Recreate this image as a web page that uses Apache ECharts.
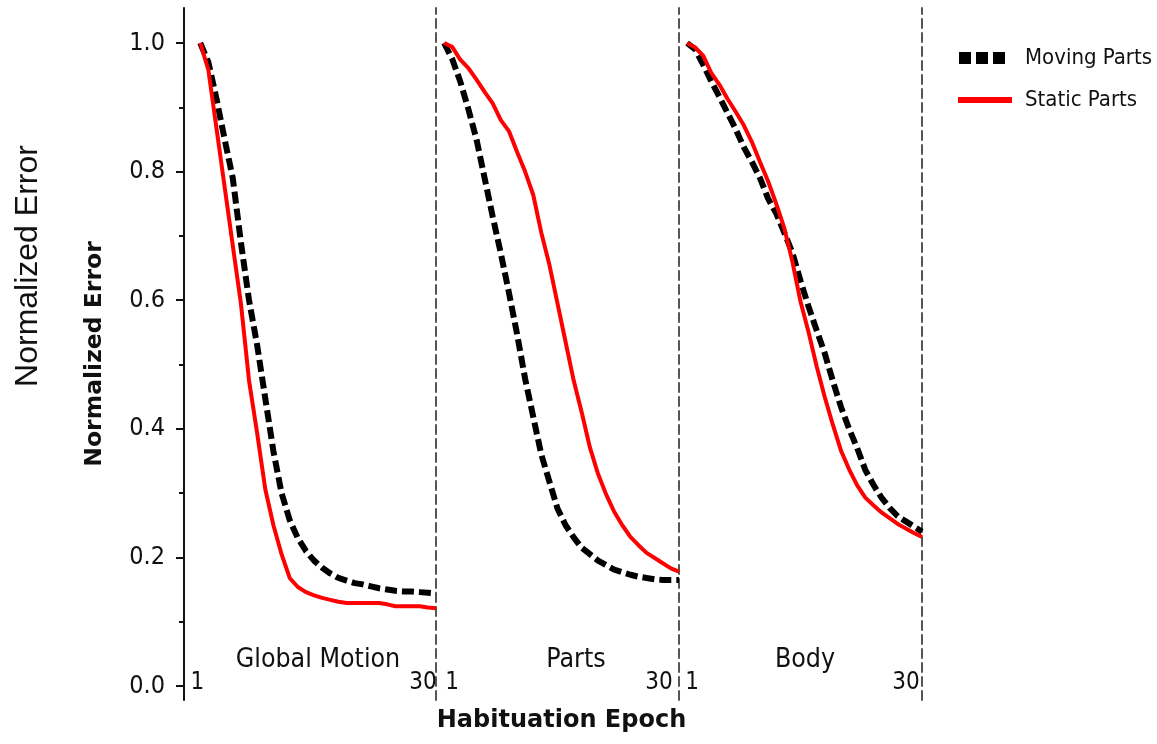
<!DOCTYPE html>
<html><head><meta charset="utf-8">
<script src="https://cdn.jsdelivr.net/npm/echarts@6/dist/echarts.min.js"></script>
<style>html,body{margin:0;padding:0;background:#fff}#c{width:1157px;height:744px}</style>
</head><body><div id="c"></div><script>
const epochs = [1,2,3,4,5,6,7,8,9,10,11,12,13,14,15,16,17,18,19,20,21,22,23,24,25,26,27,28,29,30];
const panelNames = ['Global Motion','Parts','Body'];
const seriesNames = ['Moving Parts','Static Parts'];
const movingGlobal = [1.0,0.97,0.913,0.85,0.79,0.69,0.60,0.53,0.447,0.365,0.30,0.258,0.23,0.21,0.195,0.184,0.175,0.168,0.164,0.16,0.158,0.155,0.152,0.15,0.148,0.147,0.147,0.146,0.145,0.144];
const staticGlobal = [1.0,0.958,0.867,0.776,0.685,0.595,0.475,0.393,0.306,0.25,0.205,0.168,0.154,0.146,0.141,0.137,0.134,0.131,0.129,0.129,0.129,0.129,0.129,0.127,0.124,0.124,0.124,0.124,0.122,0.121];
const movingParts = [1.0,0.975,0.94,0.897,0.85,0.79,0.73,0.673,0.612,0.548,0.478,0.419,0.36,0.318,0.276,0.25,0.231,0.215,0.205,0.195,0.188,0.181,0.177,0.173,0.17,0.168,0.166,0.165,0.165,0.165];
const staticParts = [1.0,0.994,0.974,0.961,0.943,0.924,0.906,0.88,0.863,0.831,0.80,0.764,0.705,0.655,0.595,0.535,0.475,0.425,0.371,0.33,0.298,0.271,0.25,0.232,0.219,0.207,0.199,0.191,0.183,0.178];
const movingBody = [1.0,0.99,0.966,0.94,0.916,0.891,0.866,0.838,0.815,0.79,0.758,0.735,0.705,0.674,0.63,0.59,0.553,0.517,0.474,0.434,0.40,0.37,0.336,0.313,0.293,0.277,0.264,0.256,0.248,0.24];
const staticBody = [1.0,0.993,0.98,0.953,0.935,0.913,0.893,0.872,0.846,0.815,0.785,0.75,0.712,0.66,0.598,0.55,0.497,0.449,0.406,0.366,0.337,0.312,0.293,0.281,0.27,0.261,0.252,0.245,0.238,0.232];
const yTicks = [0,0.2,0.4,0.6,0.8,1.0];
const yMinorTicks = [0.1,0.3,0.5,0.7,0.9];
const xTickLabels = [1,30];

const F = "'DejaVu Sans Condensed','DejaVu Sans',sans-serif";
const FB = "'DejaVu Sans',sans-serif";
const movingData = [movingGlobal, movingParts, movingBody];
const staticData = [staticGlobal, staticParts, staticBody];

const yMin = -14/643, yMax = 1 + 35/643;
const grids = [
  {left:184, top:8, width:252, height:692},
  {left:436, top:8, width:243, height:692},
  {left:679, top:8, width:243, height:692}
];
const xMins = [-1, 0, 0];
const labelShift = [[-3,-13],[8,-20],[5,-16]];
function pad(s){ return s>=0 ? [0,0,0,2*s] : [0,-2*s,0,0]; }

const xAxes = grids.map((g,i)=>({
  gridIndex:i, type:'value', min:xMins[i], max:30,
  axisLine:{show:false, onZero:false}, axisTick:{show:false}, splitLine:{show:false},
  axisLabel:{
    customValues:xTickLabels, inside:true, margin:5,
    formatter:(v)=> (v===xTickLabels[0] ? '{a|'+v+'}' : '{b|'+v+'}'),
    rich:{
      a:{fontFamily:F, fontSize:24, color:'#111', padding:pad(labelShift[i][0])},
      b:{fontFamily:F, fontSize:24, color:'#111', padding:pad(labelShift[i][1])}
    }
  },
  name: i===1 ? 'Habituation Epoch' : '',
  nameLocation:'middle', nameGap:9,
  nameTextStyle:{fontFamily:FB, fontWeight:'bold', fontSize:24, color:'#111', padding:[0,0,0,8]}
}));

const dashedLine = {show:true, onZero:false, lineStyle:{color:'#555', width:2, type:[9,5]}};
const yAxes = grids.map((g,i)=>({
  gridIndex:i, type:'value', min:yMin, max:yMax, position:'right',
  axisLine:dashedLine, axisTick:{show:false}, axisLabel:{show:false}, splitLine:{show:false}
}));
yAxes.push({
  gridIndex:0, type:'value', min:yMin, max:yMax, position:'left',
  axisLine:{show:true, onZero:false, lineStyle:{color:'#111', width:2}},
  axisTick:{show:true, customValues:yTicks, length:8, lineStyle:{color:'#111', width:2}},
  axisLabel:{customValues:yTicks, formatter:(v)=>v.toFixed(1), fontFamily:F, fontSize:25, color:'#111', margin:19},
  splitLine:{show:false},
  name:'Normalized Error', nameLocation:'middle', nameRotate:90, nameGap:77,
  nameTextStyle:{fontFamily:FB, fontWeight:'bold', fontSize:23.5, color:'#111'}
});
yAxes.push({
  gridIndex:0, type:'value', min:yMin, max:yMax, position:'left',
  axisLine:{show:false, onZero:false},
  axisTick:{show:true, customValues:yMinorTicks, length:5, lineStyle:{color:'#111', width:2}},
  axisLabel:{show:false}, splitLine:{show:false}
});

const series = [];
for (let i=0;i<3;i++){
  series.push({
    name:seriesNames[0], type:'line', xAxisIndex:i, yAxisIndex:i, symbol:'none',
    data:epochs.map((e,k)=>[e, movingData[i][k]]),
    lineStyle:{color:'#000', width:6, type:[12,5], cap:'butt'}, itemStyle:{color:'#000'}, z:2
  });
}
for (let i=0;i<3;i++){
  series.push({
    name:seriesNames[1], type:'line', xAxisIndex:i, yAxisIndex:i, symbol:'none',
    data:epochs.map((e,k)=>[e, staticData[i][k]]),
    lineStyle:{color:'#ff0000', width:4}, itemStyle:{color:'#ff0000'}, z:3
  });
}

const panelX = [318, 576, 805];
const graphic = panelNames.map((n,i)=>({
  type:'text', x:panelX[i], y:660,
  style:{text:n, font:'26.5px '+F, fill:'#111', textAlign:'center', textVerticalAlign:'middle'}
}));
graphic.push({
  type:'text', x:28, y:266, rotation:Math.PI/2,
  style:{text:'Normalized Error', font:"32px 'Liberation Sans', Arial, sans-serif", fill:'#111', textAlign:'center', textVerticalAlign:'middle'}
});

const chart = echarts.init(document.getElementById('c'), null, {renderer:'canvas'});
chart.setOption({
  backgroundColor:'#fff',
  animation:false,
  grid:grids,
  xAxis:xAxes,
  yAxis:yAxes,
  series:series,
  legend:[
    {data:[{name:seriesNames[0], lineStyle:{width:12, type:[12,5]}}], left:953, top:47, orient:'vertical', padding:0,
     itemWidth:46, itemHeight:12, itemStyle:{opacity:0},
     textStyle:{fontFamily:F, fontSize:22, color:'#111', padding:[0,0,0,15]}},
    {data:[{name:seriesNames[1], lineStyle:{width:6}}], left:955, top:89, orient:'vertical', padding:0,
     itemWidth:54, itemHeight:12, itemStyle:{opacity:0},
     textStyle:{fontFamily:F, fontSize:22, color:'#111', padding:[0,0,0,8]}}
  ],
  graphic:graphic
});
</script></body></html>
